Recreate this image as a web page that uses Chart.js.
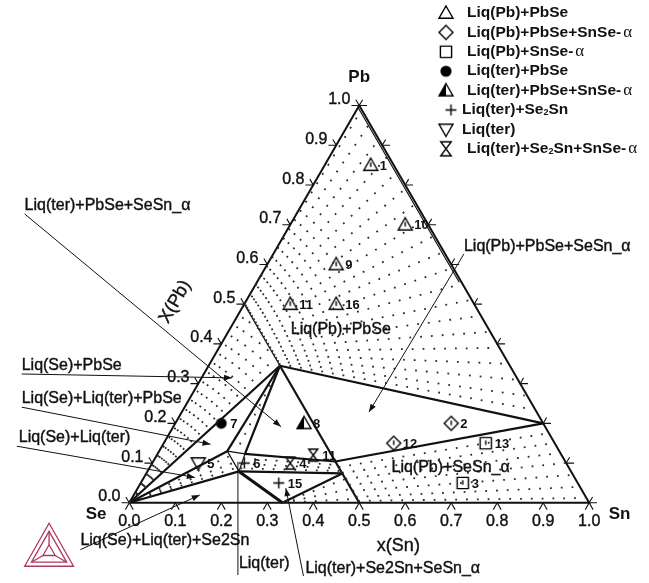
<!DOCTYPE html>
<html>
<head>
<meta charset="utf-8">
<script src="https://cdn.jsdelivr.net/npm/chart.js@4.4.0/dist/chart.umd.min.js"></script>
<style>
  html, body { margin: 0; padding: 0; background: #fff; }
  #wrap { width: 649px; height: 583px; }
</style>
</head>
<body>
<div id="wrap"><canvas id="phase"></canvas></div>
<script>
// all compositions are [x(Sn), x(Pb)], x(Se) is the rest
const tickValues = [0, 0.1, 0.2, 0.3, 0.4, 0.5, 0.6, 0.7, 0.8, 0.9, 1.0];
const tickLabels = ['0.0', '0.1', '0.2', '0.3', '0.4', '0.5', '0.6', '0.7', '0.8', '0.9', '1.0'];

const Se = [0, 0], Sn = [1, 0], Pb = [0, 1];
const PbSe = [0, 0.5], SnSe = [0.5, 0], Se2Sn = [0.333, 0];
const J = [0.155, 0.345];   // PbSe-rich solid, corner of the 3-phase triangles
const R = [0.80, 0.20];     // Liq(Pb) corner
const Q = [0.396, 0.104];   // SnSe-rich solid with Liq(Pb)/Liq(ter)
const Q2 = [0.426, 0.074];  // SnSe-rich solid with Liq(ter)+Se2Sn
const L1 = [0.19, 0.123], L2 = [0.148, 0.130], L3 = [0.199, 0.079]; // Liq(ter) corners

// experimental alloys
const liqPbPbSe = [[0.10, 0.85], [0.25, 0.70], [0.15, 0.60], [0.10, 0.50], [0.20, 0.50]];
const liqPbPbSeIds = ['1', '10', '9', '11', '16'];
const liqPbPbSeSnSe = [[0.60, 0.20], [0.50, 0.15]];
const liqPbPbSeSnSeIds = ['2', '12'];
const liqPbSnSe = [[0.70, 0.15], [0.70, 0.05]];
const liqPbSnSeIds = ['13', '3'];
const liqTerPbSe = [[0.10, 0.20]];
const liqTerPbSeIds = ['7'];
const liqTerPbSeSnSe = [[0.28, 0.20]];
const liqTerPbSeSnSeIds = ['8'];
const liqTerSe2Sn = [[0.20, 0.10], [0.30, 0.05]];
const liqTerSe2SnIds = ['6', '15'];
const liqTer = [[0.10, 0.10]];
const liqTerIds = ['5'];
const liqTerSe2SnSnSe = [[0.30, 0.10], [0.34, 0.12]];
const liqTerSe2SnSnSeIds = ['4', '11'];

// calculated phase boundaries
const frame = [Se, Sn, Pb, Se];
const heavyLines = [[J, R], [Q, R], [J, SnSe], [Se, J], [Se, L2], [Se, L3], [J, L2], [J, L1], [L1, Q], [L3, Q2], [Q2, Se2Sn]];
const extraHeavy = [[L3, Se2Sn]];
const thinLines = [[PbSe, J], [L2, L1], [L2, L3], [L1, L3], [[0, 0.995], [0.44, 0.555]]];

// tie lines (dotted)
const tiesLiqPbPbSe = [
  [[0.000, 0.500], [0.010, 0.985]], [[0.005, 0.495], [0.045, 0.950]], [[0.011, 0.489], [0.085, 0.910]],
  [[0.017, 0.483], [0.125, 0.870]], [[0.024, 0.476], [0.165, 0.830]], [[0.031, 0.469], [0.205, 0.790]],
  [[0.039, 0.461], [0.245, 0.750]], [[0.047, 0.453], [0.285, 0.710]], [[0.055, 0.445], [0.325, 0.670]],
  [[0.064, 0.436], [0.365, 0.630]], [[0.073, 0.427], [0.405, 0.590]], [[0.082, 0.418], [0.445, 0.550]],
  [[0.091, 0.409], [0.485, 0.510]], [[0.100, 0.400], [0.525, 0.470]], [[0.109, 0.391], [0.565, 0.430]],
  [[0.118, 0.382], [0.605, 0.390]], [[0.127, 0.373], [0.645, 0.350]], [[0.135, 0.365], [0.685, 0.310]],
  [[0.143, 0.357], [0.725, 0.270]], [[0.150, 0.350], [0.760, 0.235]]
];
const tiesLiqPbSnSe = [
  [[0.410, 0.090], [0.822, 0.175]], [[0.425, 0.075], [0.847, 0.150]], [[0.440, 0.060], [0.872, 0.125]],
  [[0.455, 0.045], [0.897, 0.100]], [[0.470, 0.030], [0.927, 0.070]], [[0.485, 0.015], [0.957, 0.040]],
  [[0.495, 0.005], [0.985, 0.012]]
];
const tiesLiqSePbSe = [
  [Se, [0.015, 0.485]], [Se, [0.035, 0.465]], [Se, [0.060, 0.440]], [Se, [0.085, 0.415]],
  [Se, [0.110, 0.390]], [Se, [0.135, 0.365]]
];
const tiesSmall = [
  [J, [0.168, 0.127]],
  [Se, [0.160, 0.118]], [Se, [0.175, 0.100]], [Se, [0.188, 0.088]],
  [[0.192, 0.112], [0.405, 0.095]], [[0.196, 0.098], [0.413, 0.087]], [[0.198, 0.087], [0.420, 0.080]],
  [Se2Sn, [0.440, 0.060]], [Se2Sn, [0.465, 0.035]], [Se2Sn, [0.490, 0.010]]
];

// placement of the triangle on the page
const OX = 125, OY = 508, SIDE = 470, H = Math.sqrt(3) / 2;
function tern(c) { return { x: OX + SIDE * (c[0] + c[1] / 2), y: OY - SIDE * H * c[1] }; }

function makeSymbol(kind, r, mark) {
  const n = Math.ceil(2 * r + 4);
  const c = document.createElement('canvas');
  c.width = n; c.height = n;
  const g = c.getContext('2d');
  const m = n / 2;
  g.lineWidth = 1.4; g.strokeStyle = '#000'; g.fillStyle = '#000';
  g.beginPath();
  if (kind === 'tri' || kind === 'half') {
    g.moveTo(m, m - r); g.lineTo(m + r, m + r * 0.75); g.lineTo(m - r, m + r * 0.75); g.closePath();
    if (kind === 'half') { g.save(); g.clip(); g.fillRect(0, 0, m, n); g.restore(); }
    g.stroke();
  } else if (kind === 'down') {
    g.moveTo(m, m + r); g.lineTo(m + r, m - r * 0.75); g.lineTo(m - r, m - r * 0.75); g.closePath(); g.stroke();
  } else if (kind === 'diamond') {
    g.moveTo(m, m - r); g.lineTo(m + r, m); g.lineTo(m, m + r); g.lineTo(m - r, m); g.closePath(); g.stroke();
  } else if (kind === 'square') {
    const s = r * 0.8; g.rect(m - s, m - s, 2 * s, 2 * s); g.stroke();
  } else if (kind === 'circle') {
    g.arc(m, m, r * 0.8, 0, 2 * Math.PI); g.fill();
  } else if (kind === 'plus') {
    g.moveTo(m - r, m); g.lineTo(m + r, m); g.moveTo(m, m - r); g.lineTo(m, m + r); g.stroke();
  } else if (kind === 'hour') {
    const w = r * 0.75;
    g.moveTo(m - w, m - r); g.lineTo(m + w, m - r); g.lineTo(m - w, m + r); g.lineTo(m + w, m + r); g.closePath(); g.stroke();
  }
  if (mark) { g.beginPath(); g.moveTo(m, m - r * 0.4); g.lineTo(m, m + r * 0.25); g.stroke(); }
  return c;
}

const datasets = [];
function addLine(pts, width, color, dash) {
  datasets.push({
    data: pts.map(tern), showLine: true, borderColor: color, borderWidth: width,
    borderDash: dash || [], pointRadius: 0, pointHoverRadius: 0, tension: 0, fill: false
  });
}
[tiesLiqPbPbSe, tiesLiqPbSnSe, tiesLiqSePbSe, tiesSmall].forEach(group =>
  group.forEach(t => addLine(t, 1.8, '#2a2a2a', [1.8, 9])));
thinLines.forEach(l => addLine(l, 1.2, '#111'));
heavyLines.forEach(l => addLine(l, 2.2, '#111'));
extraHeavy.forEach(l => addLine(l, 3, '#111'));
addLine(frame, 2, '#111');

// tick marks on the three edges
tickValues.forEach(t => {
  const b = tern([t, 0]), l = tern([0, t]), r = tern([1 - t, t]);
  [[{ x: b.x - 4, y: b.y + 7 }, b, { x: b.x + 4, y: b.y + 7 }],
   [{ x: l.x - 8, y: l.y }, l, { x: l.x - 3.5, y: l.y - 6 }],
   [{ x: r.x + 8, y: r.y }, r, { x: r.x + 3.5, y: r.y - 6 }]].forEach(pts => {
    datasets.push({ data: pts, showLine: true, borderColor: '#111', borderWidth: 1.1, pointRadius: 0, pointHoverRadius: 0, tension: 0 });
  });
});

const markerSets = [
  [liqPbPbSe, liqPbPbSeIds, makeSymbol('tri', 7, true)],
  [liqPbPbSeSnSe, liqPbPbSeSnSeIds, makeSymbol('diamond', 7, true)],
  [liqPbSnSe, liqPbSnSeIds, makeSymbol('square', 7, true)],
  [liqTerPbSe, liqTerPbSeIds, makeSymbol('circle', 6.8)],
  [liqTerPbSeSnSe, liqTerPbSeSnSeIds, makeSymbol('half', 7)],
  [liqTerSe2Sn, liqTerSe2SnIds, makeSymbol('plus', 5.5)],
  [liqTer, liqTerIds, makeSymbol('down', 7)],
  [liqTerSe2SnSnSe, liqTerSe2SnSnSeIds, makeSymbol('hour', 6)]
];
markerSets.forEach(([pts, ids, sym]) => {
  datasets.push({ data: pts.map(tern), ids: ids, pointStyle: sym, pointRadius: 6, pointHoverRadius: 6, showLine: false });
});

const legendRows = [
  ['tri', [['Liq(Pb)+PbSe']]],
  ['diamond', [['Liq(Pb)+PbSe+SnSe-'], ['α', 'g']]],
  ['square', [['Liq(Pb)+SnSe-'], ['α', 'g']]],
  ['circle', [['Liq(ter)+PbSe']]],
  ['half', [['Liq(ter)+PbSe+SnSe-'], ['α', 'g']]],
  ['plus', [['Liq(ter)+Se'], ['2', 's'], ['Sn']]],
  ['down', [['Liq(ter)']]],
  ['hour', [['Liq(ter)+Se'], ['2', 's'], ['Sn+SnSe-'], ['α', 'g']]]
];

const notes = [
  { t: 'Liq(ter)+PbSe+SeSn_α', x: 18, y: 203, from: [18, 212], to: [280, 430] },
  { t: 'Liq(Pb)+PbSe+SeSn_α', x: 467, y: 245, from: [467, 253], to: [370, 415] },
  { t: 'Liq(Se)+PbSe', x: 15, y: 367, from: [15, 376], to: [230, 380] },
  { t: 'Liq(Se)+Liq(ter)+PbSe', x: 15, y: 401, from: [15, 410], to: [208, 448] },
  { t: 'Liq(Se)+Liq(ter)', x: 12, y: 441, from: [10, 450], to: [192, 482] },
  { t: 'Liq(Se)+Liq(ter)+Se2Sn', x: 75, y: 547, from: [75, 556], to: [197, 500] },
  { t: 'Liq(ter)', x: 237, y: 570, from: [236, 582], to: [236, 466], noHead: true },
  { t: 'Liq(ter)+Se2Sn+SeSn_α', x: 305, y: 575, from: [303, 583], to: [285, 493] },
  { t: 'Liq(Pb)+PbSe', x: 290, y: 331 },
  { t: 'Liq(Pb)+SeSn_α', x: 393, y: 472 }
];

const decor = {
  id: 'decor',
  afterDatasetsDraw(chart) {
    const ctx = chart.ctx, sx = chart.scales.x, sy = chart.scales.y;
    const P = (x, y) => [sx.getPixelForValue(x), sy.getPixelForValue(y)];
    const heavyText = (s, x, y) => { ctx.fillText(s, x, y); ctx.strokeText(s, x, y); };
    ctx.save();
    ctx.fillStyle = '#111'; ctx.strokeStyle = '#111';
    ctx.textBaseline = 'middle';
    ctx.lineWidth = 0.4;

    // tick labels
    ctx.font = '16px "Liberation Sans", Arial, sans-serif';
    tickValues.forEach((t, i) => {
      const b = tern([t, 0]), l = tern([0, t]);
      let p = P(b.x, b.y + 19);
      ctx.textAlign = 'center'; heavyText(tickLabels[i], p[0], p[1]);
      p = P(l.x - 9, l.y - 6);
      ctx.textAlign = 'right'; heavyText(tickLabels[i], p[0], p[1]);
    });

    // corner names and axis titles
    ctx.font = 'bold 17px "Liberation Sans", Arial, sans-serif';
    ctx.textAlign = 'center';
    let p = P(360, 72); ctx.fillText('Pb', p[0], p[1]);
    p = P(626, 520); ctx.fillText('Sn', p[0], p[1]);
    p = P(91, 520); ctx.fillText('Se', p[0], p[1]);
    ctx.font = '18px "Liberation Sans", Arial, sans-serif';
    p = P(400, 552); heavyText('x(Sn)', p[0], p[1]);
    p = P(172, 302);
    ctx.save(); ctx.translate(p[0], p[1]); ctx.rotate(-Math.PI / 3); heavyText('X(Pb)', 0, 0); ctx.restore();

    // region names with pointers
    ctx.font = '16px "Liberation Sans", Arial, sans-serif';
    ctx.textAlign = 'left';
    notes.forEach(n => {
      ctx.lineWidth = 0.4;
      p = P(n.x, n.y); heavyText(n.t, p[0], p[1]);
      if (!n.from) return;
      ctx.lineWidth = 1;
      const a = P(n.from[0], n.from[1]), b = P(n.to[0], n.to[1]);
      ctx.beginPath(); ctx.moveTo(a[0], a[1]); ctx.lineTo(b[0], b[1]); ctx.stroke();
      if (n.noHead) return;
      const ang = Math.atan2(b[1] - a[1], b[0] - a[0]);
      ctx.beginPath();
      ctx.moveTo(b[0], b[1]);
      ctx.lineTo(b[0] - 8 * Math.cos(ang) + 3 * Math.sin(ang), b[1] - 8 * Math.sin(ang) - 3 * Math.cos(ang));
      ctx.lineTo(b[0] - 8 * Math.cos(ang) - 3 * Math.sin(ang), b[1] - 8 * Math.sin(ang) + 3 * Math.cos(ang));
      ctx.closePath(); ctx.fill();
    });

    // alloy numbers
    ctx.font = 'bold 13px "Liberation Sans", Arial, sans-serif';
    chart.data.datasets.forEach((ds, i) => {
      if (!ds.ids) return;
      chart.getDatasetMeta(i).data.forEach((el, k) => ctx.fillText(ds.ids[k], el.x + 9, el.y + 1));
    });

    // legend
    legendRows.forEach((row, i) => {
      const y = 13 + i * 19.4;
      const sym = makeSymbol(row[0], row[0] === 'plus' ? 5.5 : 7);
      const sxp = row[0] === 'plus' ? 451 : 446;
      ctx.drawImage(sym, sxp - sym.width / 2, y - sym.height / 2);
      let x = (row[0] === 'plus' || row[0] === 'down') ? 462 : 467;
      row[1].forEach(part => {
        const kind = part[1];
        ctx.font = kind === 'g' ? '17px "Liberation Serif", serif'
          : kind === 's' ? 'bold 9px "Liberation Sans", Arial, sans-serif'
          : 'bold 15.5px "Liberation Sans", Arial, sans-serif';
        if (kind === 'g') x += 2;
        ctx.fillText(part[0], x, kind === 's' ? y + 3 : y);
        x += ctx.measureText(part[0]).width;
      });
    });

    // Thermo-Calc logo
    const c0 = P(43, 558.3), v = [P(18, 573), P(68, 573), P(43, 529)];
    ctx.strokeStyle = '#b0385a'; ctx.lineWidth = 1.3;
    const scaled = k => v.map(q => [c0[0] + (q[0] - c0[0]) * k, c0[1] + (q[1] - c0[1]) * k]);
    [1, 0.72, 0.25].forEach(k => {
      const s = scaled(k);
      ctx.beginPath(); ctx.moveTo(s[0][0], s[0][1]); ctx.lineTo(s[1][0], s[1][1]); ctx.lineTo(s[2][0], s[2][1]); ctx.closePath(); ctx.stroke();
    });
    const inner = scaled(0.72), core = scaled(0.25);
    ctx.beginPath();
    inner.forEach((q, i) => { ctx.moveTo(core[i][0], core[i][1]); ctx.lineTo(q[0], q[1]); });
    ctx.stroke();
    ctx.restore();
  }
};

new Chart(document.getElementById('phase'), {
  type: 'scatter',
  data: { datasets: datasets },
  options: {
    responsive: true,
    maintainAspectRatio: false,
    animation: false,
    layout: { padding: 0 },
    scales: {
      x: { type: 'linear', min: 0, max: 649, display: false },
      y: { type: 'linear', min: 0, max: 583, reverse: true, display: false }
    },
    plugins: { legend: { display: false }, tooltip: { enabled: false } },
    events: []
  },
  plugins: [decor]
});
</script>
</body>
</html>
